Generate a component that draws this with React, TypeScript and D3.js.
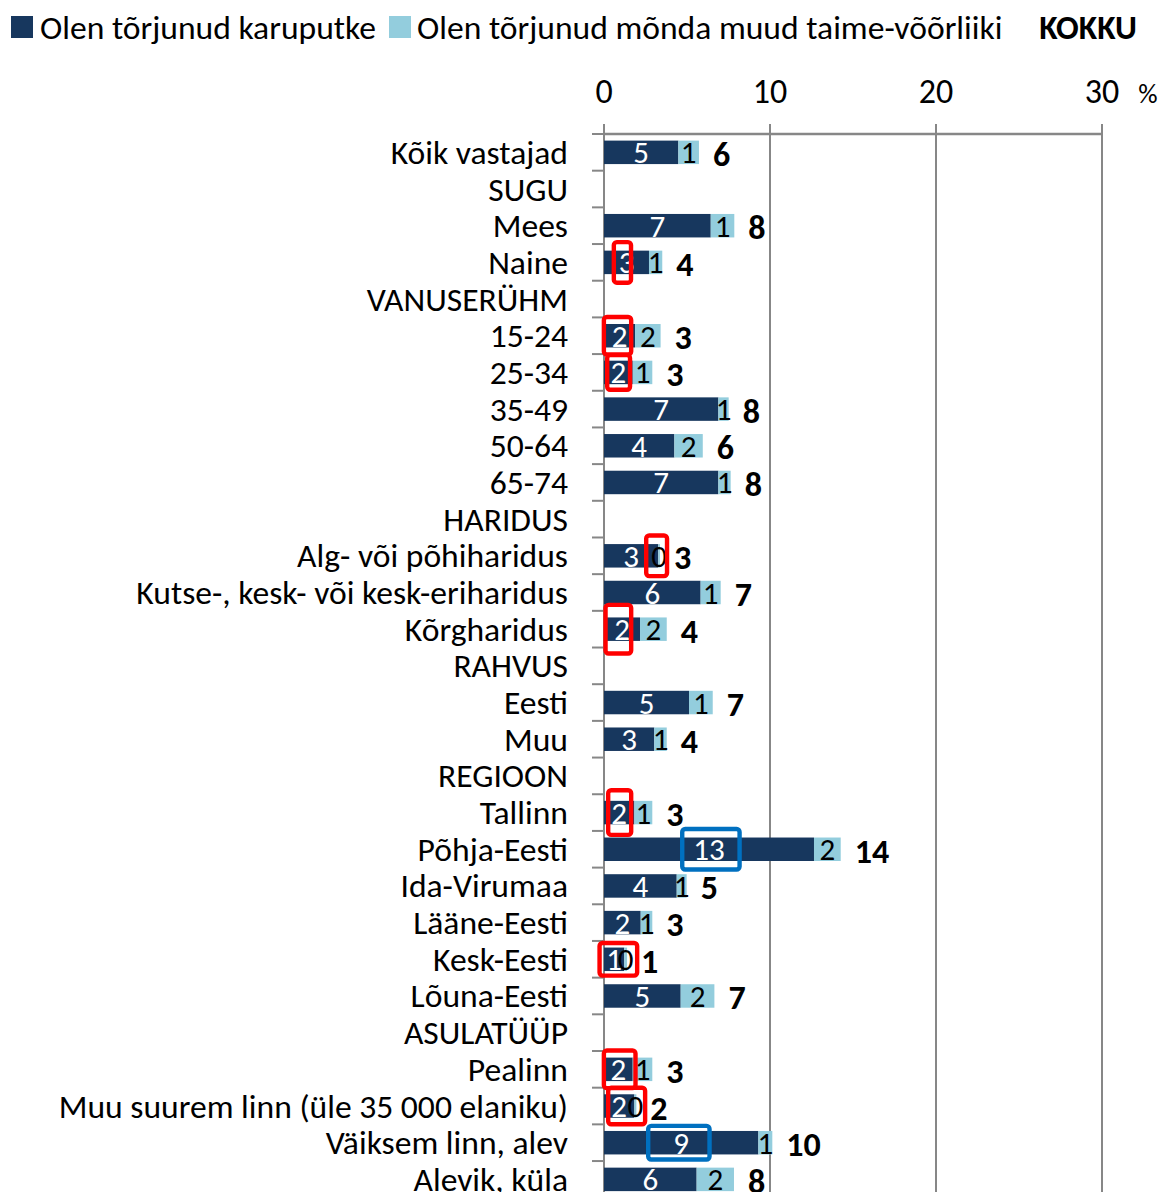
import React from "react";
import * as d3 from "d3";

const categories = [
  "Kõik vastajad", "SUGU", "Mees", "Naine", "VANUSERÜHM", "15-24", "25-34", "35-49",
  "50-64", "65-74", "HARIDUS", "Alg- või põhiharidus", "Kutse-, kesk- või kesk-eriharidus",
  "Kõrgharidus", "RAHVUS", "Eesti", "Muu", "REGIOON", "Tallinn", "Põhja-Eesti",
  "Ida-Virumaa", "Lääne-Eesti", "Kesk-Eesti", "Lõuna-Eesti", "ASULATÜÜP", "Pealinn",
  "Muu suurem linn (üle 35 000 elaniku)", "Väiksem linn, alev", "Alevik, küla",
];

// bar lengths (null = group header row)
const karuputk = [4.48, null, 6.43, 2.71, null, 1.87, 1.73, 6.89, 4.24, 6.89, null, 3.27, 5.82, 2.17, null, 5.12, 3.03, null, 1.83, 12.65, 4.38, 2.21, 1.22, 4.62, null, 1.73, 1.83, 9.3, 5.58];
const muud = [1.24, null, 1.42, 0.8, null, 1.54, 1.18, 0.62, 1.71, 0.74, null, 0.1, 1.21, 1.61, null, 1.43, 0.75, null, 1.08, 1.61, 0.6, 0.7, 0.17, 2.03, null, 1.18, 0.12, 0.84, 2.25];

// data labels as printed
const karuputkLabels = [5, null, 7, 3, null, 2, 2, 7, 4, 7, null, 3, 6, 2, null, 5, 3, null, 2, 13, 4, 2, 1, 5, null, 2, 2, 9, 6];
const muudLabels = [1, null, 1, 1, null, 2, 1, 1, 2, 1, null, 0, 1, 2, null, 1, 1, null, 1, 2, 1, 1, 0, 2, null, 1, 0, 1, 2];
const kokkuLabels = [6, null, 8, 4, null, 3, 3, 8, 6, 8, null, 3, 7, 4, null, 7, 4, null, 3, 14, 5, 3, 1, 7, null, 3, 2, 10, 8];

const xTicks = [0, 10, 20, 30];

// hand-drawn highlight boxes: row, x range in % units, height
const highlights = [
  { row: 3, from: 0.46, to: 1.76, h: 45, color: "#ff0000" },
  { row: 5, from: -0.14, to: 1.77, h: 42, color: "#ff0000" },
  { row: 6, from: 0.06, to: 1.7, h: 39, color: "#ff0000" },
  { row: 11, from: 2.41, to: 3.93, h: 45, color: "#ff0000" },
  { row: 13, from: -0.04, to: 1.77, h: 53, color: "#ff0000" },
  { row: 18, from: 0.12, to: 1.77, h: 49, color: "#ff0000" },
  { row: 19, from: 4.58, to: 8.3, h: 45, color: "#0070c0" },
  { row: 22, from: -0.4, to: 2.13, h: 37, color: "#ff0000" },
  { row: 25, from: -0.14, to: 2.03, h: 42, color: "#ff0000" },
  { row: 26, from: 0.12, to: 2.61, h: 41, color: "#ff0000" },
  { row: 27, from: 2.53, to: 6.49, h: 38, color: "#0070c0" },
];

const DARK = "#17375e";
const LIGHT = "#93cddd";
const GRID = "#878787";
const FONT = "Carlito, Calibri, Lato, sans-serif";

export default function App() {
  const width = 1161;
  const height = 1192;
  const top = 134;
  const step = 36.68;

  const x = d3.scaleLinear().domain([0, 30]).range([604, 1102]);
  const y = d3
    .scaleBand<number>()
    .domain(d3.range(categories.length))
    .range([top, top + step * categories.length])
    .paddingInner(0.36)
    .paddingOuter(0.18);
  const bw = y.bandwidth();
  const cy = (i: number) => (y(i) as number) + bw / 2;

  return (
    <svg
      width={width}
      height={height}
      style={{ position: "absolute", left: 0, top: 0, fontFamily: FONT }}
    >
      <rect width={width} height={height} fill="#fff" />

      {/* legend */}
      <rect x={11} y={16} width={22} height={22} fill={DARK} />
      <text x={40} y={27} fontSize={33.6} dominantBaseline="central">Olen tõrjunud karuputke</text>
      <rect x={389} y={16} width={22} height={22} fill={LIGHT} />
      <text x={417} y={27} fontSize={33.6} dominantBaseline="central">Olen tõrjunud mõnda muud taime-võõrliiki</text>
      <text x={1137} y={27} fontSize={33.6} fontWeight="bold" textAnchor="end" dominantBaseline="central">KOKKU</text>

      {/* x axis at top */}
      {xTicks.map((t) => (
        <g key={t}>
          <line x1={x(t)} x2={x(t)} y1={top - 10} y2={height} stroke={GRID} strokeWidth={2} />
          <text x={x(t)} y={91} fontSize={34} textAnchor="middle" dominantBaseline="central">{t}</text>
        </g>
      ))}
      <line x1={x(0)} x2={x(30)} y1={top} y2={top} stroke={GRID} strokeWidth={2.5} />
      <text x={1148} y={93} fontSize={27} textAnchor="middle" dominantBaseline="central">%</text>

      {/* y axis ticks at band boundaries */}
      {d3.range(categories.length + 1).map((i) => (
        <line key={i} x1={592} x2={x(0)} y1={top + i * step} y2={top + i * step} stroke={GRID} strokeWidth={2} />
      ))}

      {categories.map((c, i) => (
        <text key={c} x={568} y={cy(i)} fontSize={33.6} textAnchor="end" dominantBaseline="central">{c}</text>
      ))}

      {/* bars */}
      {categories.map((c, i) => {
        const a = karuputk[i];
        const b = muud[i];
        if (a === null || b === null) return null;
        const y0 = y(i) as number;
        return (
          <g key={"bar" + i}>
            <rect x={x(0)} y={y0} width={x(a) - x(0)} height={bw} fill={DARK} />
            <rect x={x(a)} y={y0} width={x(a + b) - x(a)} height={bw} fill={LIGHT} />
            <text x={x(a / 2)} y={cy(i)} fontSize={31} fill="#fff" textAnchor="middle" dominantBaseline="central">{karuputkLabels[i]}</text>
            <text x={x(a + b / 2)} y={cy(i)} fontSize={31} fill="#000" textAnchor="middle" dominantBaseline="central">{muudLabels[i]}</text>
            <text x={x(a + b) + 14} y={cy(i) + 2} fontSize={34} fontWeight="bold" dominantBaseline="central">{kokkuLabels[i]}</text>
          </g>
        );
      })}

      {/* highlight boxes */}
      {highlights.map((h, k) => (
        <rect
          key={k}
          x={x(h.from) + 2.2}
          y={cy(h.row) - h.h / 2 + 2.2}
          width={x(h.to) - x(h.from) - 4.4}
          height={h.h - 4.4}
          rx={3}
          fill="none"
          stroke={h.color}
          strokeWidth={4.4}
        />
      ))}
    </svg>
  );
}
